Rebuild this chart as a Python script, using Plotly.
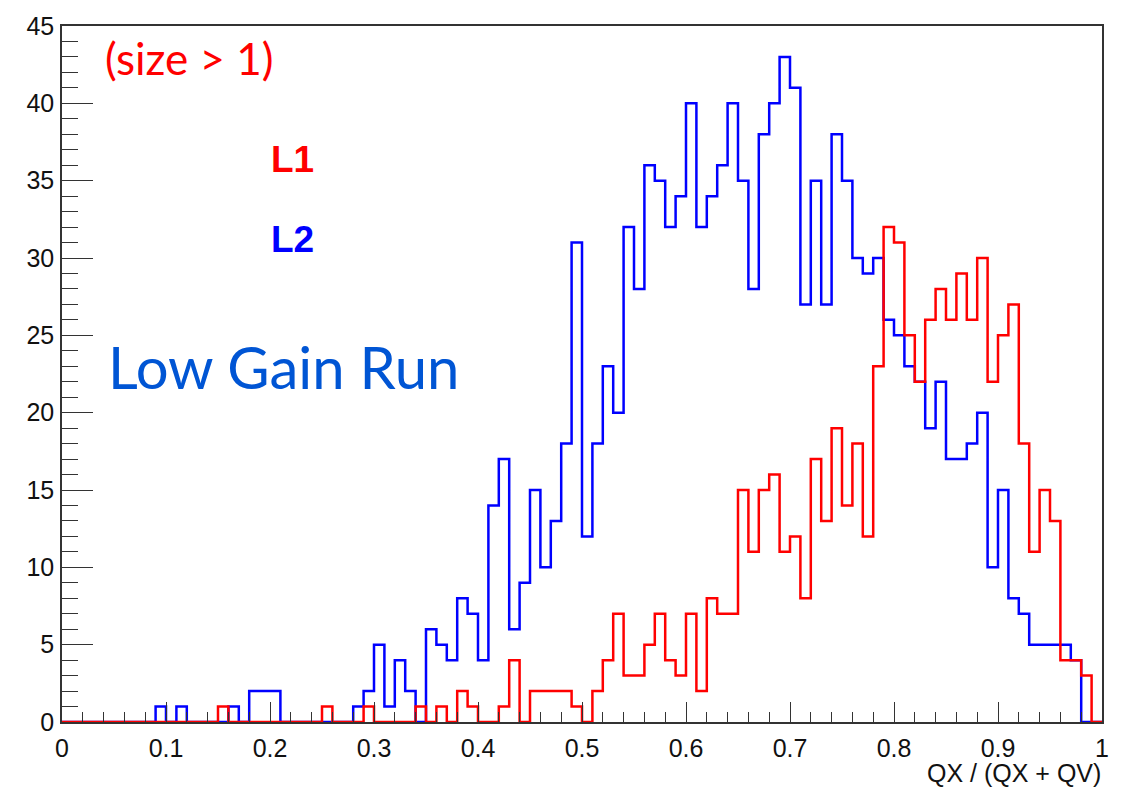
import numpy as np
import plotly.graph_objects as go

# 100 bins of width 0.01 from 0 to 1
bin_lo = 0.0
bin_hi = 1.0
n_bins = 100

# L1 (red) counts per bin, bins 0..99
l1_counts = [
    0, 0, 0, 0, 0, 0, 0, 0, 0, 0,      # 0.00-0.09
    0, 0, 0, 0, 0, 1, 0, 0, 0, 0,      # 0.10-0.19
    0, 0, 0, 0, 0, 1, 0, 0, 0, 1,      # 0.20-0.29
    0, 0, 0, 0, 1, 0, 1, 0, 2, 1,      # 0.30-0.39
    0, 0, 1, 4, 0, 2, 2, 2, 2, 1,      # 0.40-0.49
    0, 2, 4, 7, 3, 3, 5, 7, 4, 3,      # 0.50-0.59
    7, 2, 8, 7, 7, 15, 11, 15, 16, 11, # 0.60-0.69
    12, 8, 17, 13, 19, 14, 18, 12, 23, 32,  # 0.70-0.79
    31, 25, 22, 26, 28, 26, 29, 26, 30, 22, # 0.80-0.89
    25, 27, 18, 11, 15, 13, 4, 4, 3, 0,     # 0.90-0.99
]

# L2 (blue) counts per bin, bins 0..99
l2_counts = [
    0, 0, 0, 0, 0, 0, 0, 0, 0, 1,      # 0.00-0.09
    0, 1, 0, 0, 0, 0, 1, 0, 2, 2,      # 0.10-0.19
    2, 0, 0, 0, 0, 0, 0, 0, 1, 2,      # 0.20-0.29
    5, 1, 4, 2, 0, 6, 5, 4, 8, 7,      # 0.30-0.39
    4, 14, 17, 6, 9, 15, 10, 13, 18, 31,    # 0.40-0.49
    12, 18, 23, 20, 32, 28, 36, 35, 32, 34, # 0.50-0.59
    40, 32, 34, 36, 40, 35, 28, 38, 40, 43, # 0.60-0.69
    41, 27, 35, 27, 38, 35, 30, 29, 30, 26, # 0.70-0.79
    25, 23, 22, 19, 22, 17, 17, 18, 20, 10, # 0.80-0.89
    15, 8, 7, 5, 5, 5, 5, 4, 0, 0,          # 0.90-0.99
]

x_tick_vals = [0, 0.1, 0.2, 0.3, 0.4, 0.5, 0.6, 0.7, 0.8, 0.9, 1]
x_tick_text = ["0", "0.1", "0.2", "0.3", "0.4", "0.5", "0.6", "0.7", "0.8", "0.9", "1"]
y_tick_vals = [0, 5, 10, 15, 20, 25, 30, 35, 40, 45]

edges = np.linspace(bin_lo, bin_hi, n_bins + 1)


def step_xy(counts):
    xs = list(edges)
    ys = list(counts) + [counts[-1]]
    # close down to zero at the ends like a ROOT histogram outline
    xs = [edges[0]] + xs + [edges[-1]]
    ys = [0] + ys + [0]
    return xs, ys


fig = go.Figure()
bx, by = step_xy(l2_counts)
fig.add_trace(go.Scatter(x=bx, y=by, mode="lines", line=dict(color="#0000ff", width=2.5, shape="hv"),
                         name="L2", showlegend=False, hoverinfo="skip"))
rx, ry = step_xy(l1_counts)
fig.add_trace(go.Scatter(x=rx, y=ry, mode="lines", line=dict(color="#ff0000", width=2.5, shape="hv"),
                         name="L1", showlegend=False, hoverinfo="skip"))

axis_font = dict(family="Liberation Sans, Arial, sans-serif", size=25, color="#111")

fig.update_layout(
    width=1124, height=789,
    margin=dict(l=62, r=22, t=18, b=67),
    paper_bgcolor="white", plot_bgcolor="white",
    xaxis=dict(range=[0, 1], tickvals=x_tick_vals, ticktext=x_tick_text,
               ticks="inside", ticklen=20, tickwidth=1.2, tickcolor="#333",
               minor=dict(dtick=0.02, ticks="inside", ticklen=10, tickwidth=1.2, tickcolor="#333"),
               showline=True, linecolor="#333", linewidth=1.5, mirror=True,
               showgrid=False, zeroline=False, tickfont=axis_font, ticklabelstandoff=3),
    yaxis=dict(range=[0, 45], tickvals=y_tick_vals,
               ticks="inside", ticklen=31, tickwidth=1.2, tickcolor="#333",
               minor=dict(dtick=1, ticks="inside", ticklen=16, tickwidth=1.2, tickcolor="#333"),
               showline=True, linecolor="#333", linewidth=1.5, mirror=True,
               showgrid=False, zeroline=False, tickfont=axis_font, ticklabelstandoff=1),
    annotations=[
        dict(text="QX / (QX + QV)", xref="paper", yref="paper", x=1.0, y=-0.052,
             xanchor="right", yanchor="top", showarrow=False, borderpad=0,
             font=dict(family="Liberation Sans, Arial, sans-serif", size=25, color="#111")),
        dict(text="(size > 1)", xref="x", yref="y", x=0.039, y=42.9,
             xanchor="left", yanchor="middle", showarrow=False,
             font=dict(family="Lato, sans-serif", size=44, color="#ff0000")),
        dict(text="<b>L1</b>", xref="x", yref="y", x=0.199, y=36.4,
             xanchor="left", yanchor="middle", showarrow=False,
             font=dict(family="Liberation Sans, Arial, sans-serif", size=37, color="#ff0000")),
        dict(text="<b>L2</b>", xref="x", yref="y", x=0.199, y=31.2,
             xanchor="left", yanchor="middle", showarrow=False,
             font=dict(family="Liberation Sans, Arial, sans-serif", size=37, color="#0000ff")),
        dict(text="Low Gain Run", xref="x", yref="y", x=0.042, y=23.0,
             xanchor="left", yanchor="middle", showarrow=False,
             font=dict(family="Lato, sans-serif", size=58, color="#0055d4")),
    ],
)

fig.write_html("out.html")
